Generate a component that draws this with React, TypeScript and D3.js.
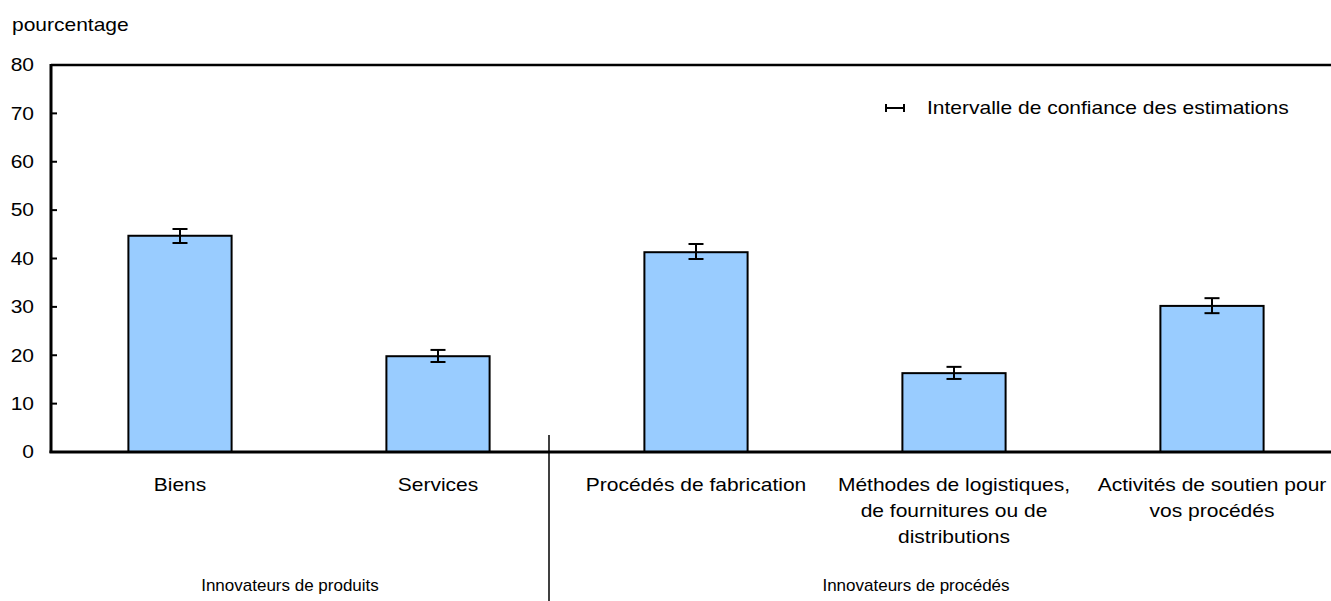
import React from "react";
import * as d3 from "d3";

const categories = [
  ["Biens"],
  ["Services"],
  ["Procédés de fabrication"],
  ["Méthodes de logistiques,", "de fournitures ou de", "distributions"],
  ["Activités de soutien pour", "vos procédés"],
];
const values = [44.7, 19.8, 41.3, 16.3, 30.2];
const lower = [43.2, 18.6, 39.9, 15.1, 28.7];
const upper = [46.1, 21.1, 43.0, 17.6, 31.8];
const yTicks = [0, 10, 20, 30, 40, 50, 60, 70, 80];
const groups = ["Innovateurs de produits", "Innovateurs de procédés"];
const legendLabel = "Intervalle de confiance des estimations";
const yTitle = "pourcentage";

const W = 1331;
const H = 601;
const left = 51;
const top = 65;
const bottom = 452;
const font = "'Liberation Sans', Arial, sans-serif";
const fs = 18;
const sx = 21 / 18;
const gfs = 17;

function ST(props: { x: number; y: number; anchor?: string; dy?: string; children: React.ReactNode }) {
  return (
    <text
      transform={`translate(${props.x},${props.y}) scale(${sx},1)`}
      x={0}
      y={0}
      dy={props.dy}
      textAnchor={props.anchor || "start"}
      fontSize={fs}
      fill="#000"
    >
      {props.children}
    </text>
  );
}

export default function App() {
  const idx = categories.map((_, i) => i);
  const x = d3
    .scaleBand<number>()
    .domain(idx)
    .range([left, left + 258 * 5])
    .paddingInner(0.6)
    .paddingOuter(0.3);
  const y = d3.scaleLinear().domain([0, 80]).range([bottom, top]);
  const cx = (i: number) => (x(i) as number) + x.bandwidth() / 2;
  const sepX = 549;

  return (
    <div style={{ position: "absolute", left: 0, top: 0 }}>
      <svg width={W} height={H} style={{ display: "block" }} fontFamily={font}>
        <rect x={0} y={0} width={W} height={H} fill="#fff" />
        <ST x={12} y={31}>{yTitle}</ST>
        {/* bars */}
        {idx.map((i) => (
          <rect
            key={"b" + i}
            x={x(i)}
            y={y(values[i])}
            width={x.bandwidth()}
            height={y(0) - y(values[i])}
            fill="#99ccff"
            stroke="#000"
            strokeWidth={2}
          />
        ))}
        {/* error bars */}
        {idx.map((i) => (
          <g key={"e" + i} stroke="#000" strokeWidth={2}>
            <line x1={cx(i)} x2={cx(i)} y1={y(lower[i])} y2={y(upper[i])} />
            <line x1={cx(i) - 7.5} x2={cx(i) + 7.5} y1={y(lower[i])} y2={y(lower[i])} />
            <line x1={cx(i) - 7.5} x2={cx(i) + 7.5} y1={y(upper[i])} y2={y(upper[i])} />
          </g>
        ))}
        {/* axes frame */}
        <line x1={left} x2={W} y1={top} y2={top} stroke="#000" strokeWidth={2.5} />
        <line x1={left} x2={left} y1={top - 1} y2={bottom + 1} stroke="#000" strokeWidth={3} />
        <line x1={left - 1.5} x2={W} y1={bottom} y2={bottom} stroke="#000" strokeWidth={3} />
        {yTicks.map((t) => (
          <g key={"t" + t}>
            {t > 0 && t < 80 && (
              <line x1={left} x2={left + 6} y1={y(t)} y2={y(t)} stroke="#000" strokeWidth={2} />
            )}
            <ST x={34} y={y(t)} dy="0.35em" anchor="end">
              {t}
            </ST>
          </g>
        ))}
        {/* category labels */}
        {idx.map((i) => (
          <ST key={"c" + i} x={cx(i)} y={491} anchor="middle">
            {categories[i].map((l, k) => (
              <tspan key={k} x={0} dy={k === 0 ? 0 : 26}>
                {l}
              </tspan>
            ))}
          </ST>
        ))}
        {/* separator */}
        <line x1={sepX} x2={sepX} y1={435} y2={H} stroke="#000" strokeWidth={1.5} />
        <text x={290} y={591} textAnchor="middle" fontSize={gfs} fill="#000">
          {groups[0]}
        </text>
        <text x={916} y={591} textAnchor="middle" fontSize={gfs} fill="#000">
          {groups[1]}
        </text>
        {/* legend */}
        <g stroke="#000" strokeWidth={2}>
          <line x1={885} x2={905} y1={108} y2={108} />
          <line x1={886} x2={886} y1={104} y2={112} />
          <line x1={904} x2={904} y1={104} y2={112} />
        </g>
        <ST x={927} y={114}>{legendLabel}</ST>
      </svg>
    </div>
  );
}
